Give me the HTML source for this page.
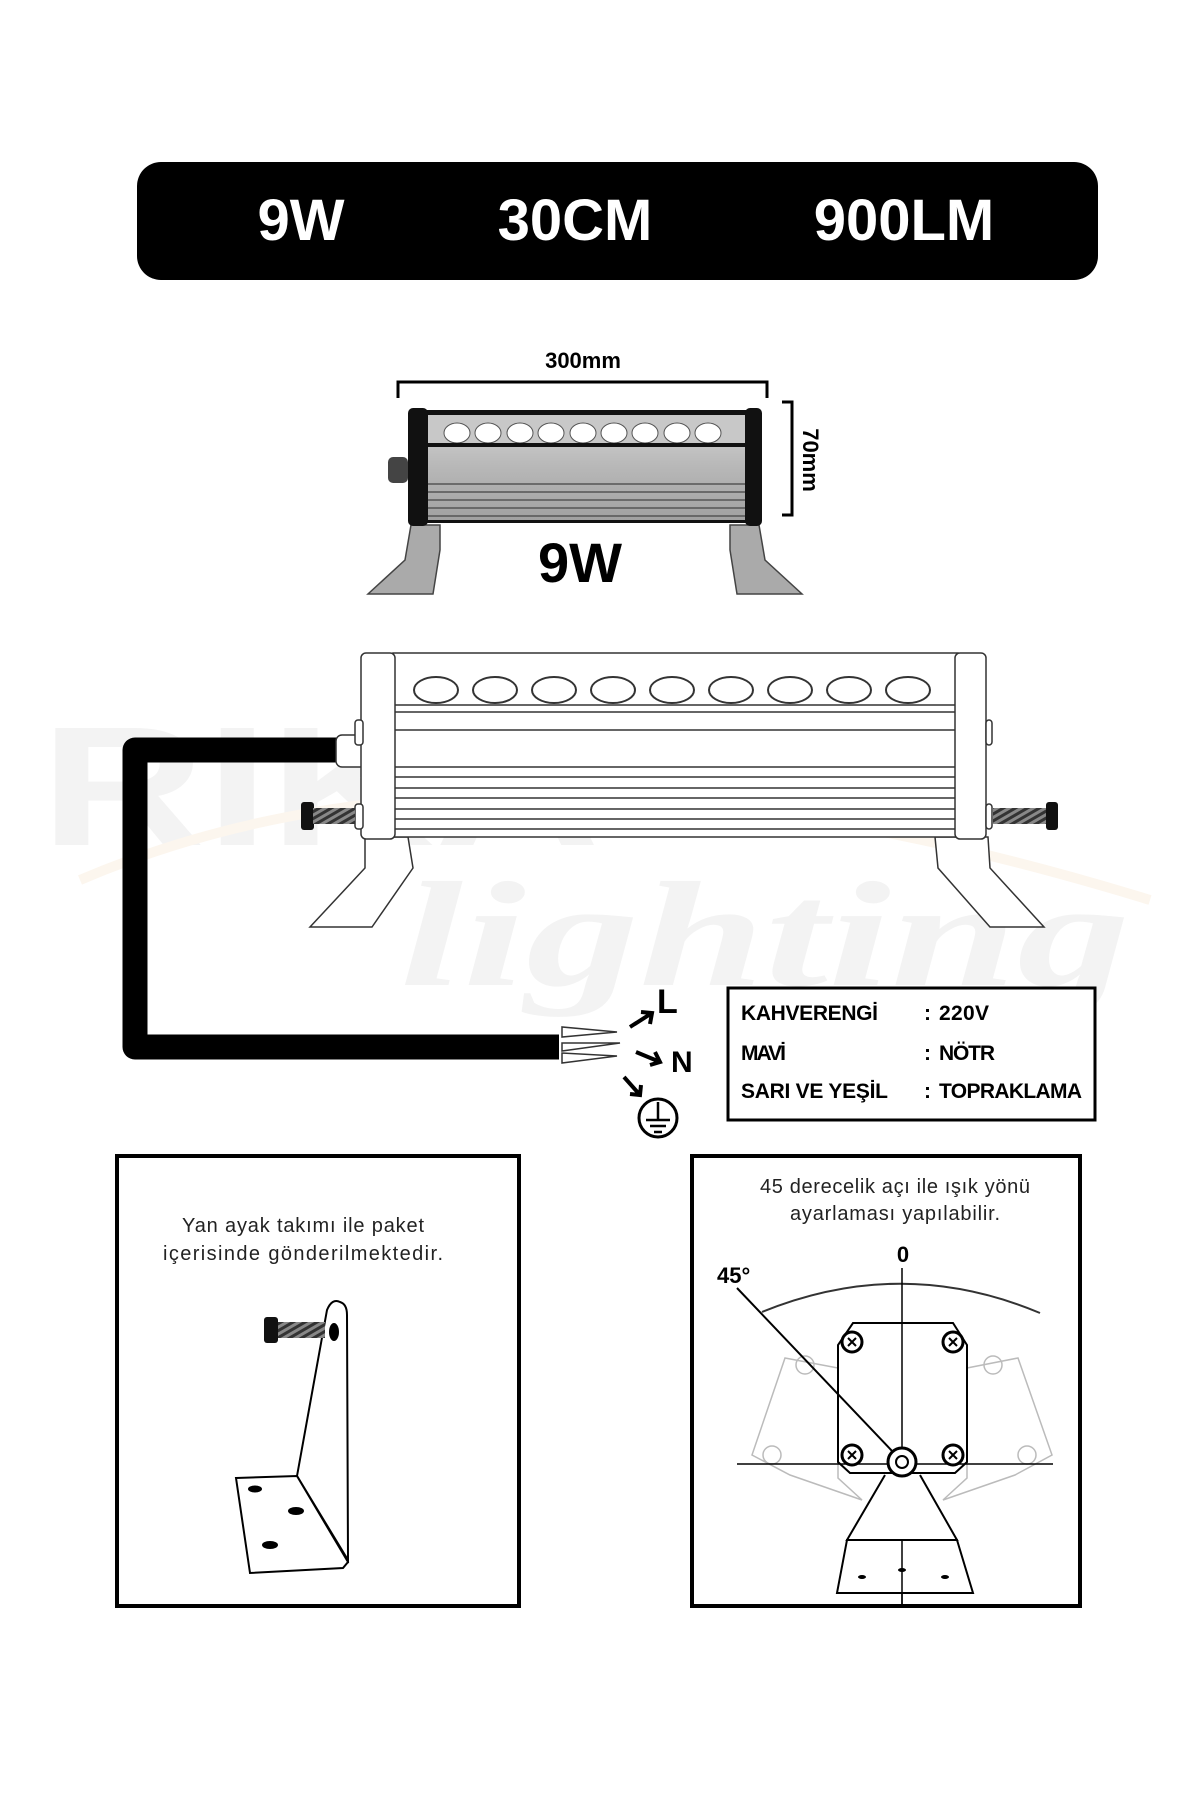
<!DOCTYPE html>
<html><head><meta charset="utf-8"><style>html,body{margin:0;padding:0;background:#fff}svg{display:block}</style></head>
<body>
<svg width="1200" height="1800" viewBox="0 0 1200 1800" xmlns="http://www.w3.org/2000/svg" font-family="Liberation Sans, sans-serif">
<defs>
<linearGradient id="g1" x1="0" y1="0" x2="0" y2="1"><stop offset="0" stop-color="#d8d8d8"/><stop offset="0.5" stop-color="#b8b8b8"/><stop offset="1" stop-color="#a0a0a0"/></linearGradient>
<pattern id="thr" width="6" height="6" patternUnits="userSpaceOnUse" patternTransform="rotate(60)"><rect width="6" height="6" fill="#888"/><rect width="3" height="6" fill="#333"/></pattern>
</defs>
<!-- watermark -->
<text x="40" y="845" font-size="170" font-weight="bold" fill="#f3f3f3" textLength="560" lengthAdjust="spacingAndGlyphs">RIKA</text>
<text x="400" y="985" font-size="150" font-weight="bold" font-style="italic" font-family="Liberation Serif, serif" fill="#f3f3f3" textLength="730" lengthAdjust="spacingAndGlyphs">lighting</text>
<path d="M80 880 Q500 700 1150 900" stroke="#fcf6ee" stroke-width="10" fill="none"/>

<!-- banner -->
<rect x="137" y="162" width="961" height="118" rx="24" fill="#000"/>
<g fill="#fff" font-weight="bold" font-size="58" text-anchor="middle">
<text x="301" y="240">9W</text><text x="575" y="240">30CM</text><text x="904" y="240">900LM</text></g>

<!-- small lamp -->
<text x="583" y="368" font-size="22" font-weight="bold" text-anchor="middle">300mm</text>
<path d="M398 398V382H767V398" stroke="#000" stroke-width="3" fill="none"/>
<path d="M782 402H792V515H782" stroke="#000" stroke-width="3" fill="none"/>
<text transform="translate(803,460) rotate(90)" font-size="22" font-weight="bold" text-anchor="middle">70mm</text>
<g fill="#aaa" stroke="#444" stroke-width="1.5">
<path d="M411 525L440 525L440 550L433 594L368 594L405 560Z"/>
<path d="M759 525L730 525L730 550L737 594L802 594L765 560Z"/>
</g>
<rect x="425" y="410" width="323" height="112" fill="url(#g1)"/>
<rect x="425" y="410" width="323" height="5" fill="#111"/>
<rect x="425" y="415" width="323" height="29" fill="#c8c8c8"/>
<g fill="#fff" stroke="#555" stroke-width="1">
<ellipse cx="457" cy="433" rx="13" ry="10"/><ellipse cx="488" cy="433" rx="13" ry="10"/><ellipse cx="520" cy="433" rx="13" ry="10"/><ellipse cx="551" cy="433" rx="13" ry="10"/><ellipse cx="583" cy="433" rx="13" ry="10"/><ellipse cx="614" cy="433" rx="13" ry="10"/><ellipse cx="645" cy="433" rx="13" ry="10"/><ellipse cx="677" cy="433" rx="13" ry="10"/><ellipse cx="708" cy="433" rx="13" ry="10"/></g>
<rect x="425" y="443" width="323" height="4" fill="#111"/>
<g stroke="#555" stroke-width="1.5"><path d="M427 484H746M427 492H746M427 500H746M427 508H746M427 516H746"/></g>
<rect x="425" y="520" width="323" height="3" fill="#111"/>
<rect x="408" y="408" width="20" height="118" rx="5" fill="#111"/>
<rect x="745" y="408" width="17" height="118" rx="5" fill="#111"/>
<rect x="388" y="457" width="20" height="26" rx="5" fill="#444"/>
<text x="580" y="582" font-size="56" font-weight="bold" text-anchor="middle">9W</text>

<!-- big lamp -->
<path d="M336 750H135V1047H559" stroke="#000" stroke-width="25" fill="none" stroke-linejoin="round"/>
<g fill="#fff" stroke="#333" stroke-width="1.5">
<path d="M617 1032l-55 -5v10z M620 1043l-58 0v8z M617 1056l-55 -3v10z"/>
<rect x="336" y="735" width="30" height="32" rx="6"/>
<path d="M365 837L408 837L413 868L372 927L310 927L365 868Z"/>
<path d="M935 837L988 837L990 868L1044 927L990 927L938 868Z"/>
<rect x="393" y="653" width="565" height="184"/>
<rect x="361" y="653" width="34" height="186" rx="5"/>
<rect x="955" y="653" width="31" height="186" rx="5"/>
<rect x="355" y="720" width="8" height="25" rx="3"/>
<rect x="986" y="720" width="6" height="25" rx="3"/>
<rect x="355" y="804" width="8" height="25" rx="3"/>
<rect x="986" y="804" width="6" height="25" rx="3"/>
</g>
<g stroke="#333" stroke-width="1.5" fill="none"><path d="M395 705H955M395 712H955M395 730H955M395 767H955M395 777H955M395 788H955M395 798H955M395 809H955M395 819H955M395 829H955"/></g>
<g fill="#fff" stroke="#333" stroke-width="2">
<ellipse cx="436" cy="690" rx="22" ry="13"/><ellipse cx="495" cy="690" rx="22" ry="13"/><ellipse cx="554" cy="690" rx="22" ry="13"/><ellipse cx="613" cy="690" rx="22" ry="13"/><ellipse cx="672" cy="690" rx="22" ry="13"/><ellipse cx="731" cy="690" rx="22" ry="13"/><ellipse cx="790" cy="690" rx="22" ry="13"/><ellipse cx="849" cy="690" rx="22" ry="13"/><ellipse cx="908" cy="690" rx="22" ry="13"/></g>
<rect x="301" y="802" width="13" height="28" rx="3" fill="#111"/><rect x="313" y="808" width="42" height="16" fill="url(#thr)"/>
<rect x="1046" y="802" width="12" height="28" rx="3" fill="#111"/><rect x="993" y="808" width="53" height="16" fill="url(#thr)"/>

<!-- L N ground -->
<g stroke="#000" stroke-width="4" fill="none">
<path d="M630 1027L652 1013M641 1012L652 1013L650 1024"/>
<path d="M636 1052L660 1062M650 1065L660 1062L655 1052"/>
<path d="M624 1077L640 1095M630 1094L640 1095L641 1085"/>
<circle cx="658" cy="1118" r="19" stroke-width="3"/>
<path d="M658 1102V1120M646 1120H670M650 1126H666M654 1132H662" stroke-width="2.5"/></g>
<text x="657" y="1013" font-size="34" font-weight="bold">L</text>
<text x="671" y="1072" font-size="30" font-weight="bold">N</text>

<!-- legend -->
<rect x="728" y="988" width="367" height="132" fill="#fff" stroke="#000" stroke-width="3"/>
<g font-size="21" font-weight="bold">
<text x="741" y="1020" textLength="137">KAHVERENGİ</text><text x="924" y="1020">:</text><text x="939" y="1020" textLength="50">220V</text>
<text x="741" y="1060" textLength="45">MAVİ</text><text x="924" y="1060">:</text><text x="939" y="1060" textLength="56">NÖTR</text>
<text x="741" y="1098" textLength="147">SARI VE YEŞİL</text><text x="924" y="1098">:</text><text x="939" y="1098" textLength="143">TOPRAKLAMA</text></g>

<!-- left panel -->
<rect x="117" y="1156" width="402" height="450" fill="none" stroke="#000" stroke-width="4"/>
<g font-size="20" fill="#222" text-anchor="middle">
<text x="303" y="1232" textLength="242">Yan ayak takımı ile paket</text>
<text x="303" y="1260" textLength="280">içerisinde gönderilmektedir.</text></g>
<g fill="#fff" stroke="#000" stroke-width="2">
<path d="M297 1476L327 1310Q332 1298 340 1302Q347 1304 347 1315L348 1560Z"/>
<path d="M236 1478L297 1476L348 1562L343 1568L250 1573Z"/></g>
<ellipse cx="334" cy="1332" rx="5" ry="9"/>
<ellipse cx="255" cy="1489" rx="7" ry="3.5"/><ellipse cx="296" cy="1511" rx="8" ry="4"/><ellipse cx="270" cy="1545" rx="8" ry="4"/>
<rect x="264" y="1317" width="14" height="26" rx="3" fill="#111"/><rect x="278" y="1322" width="47" height="16" fill="url(#thr)"/>

<!-- right panel -->
<rect x="692" y="1156" width="388" height="450" fill="none" stroke="#000" stroke-width="4"/>
<g font-size="20" fill="#222" text-anchor="middle">
<text x="895" y="1193" textLength="270">45 derecelik açı ile ışık yönü</text>
<text x="895" y="1220" textLength="210">ayarlaması yapılabilir.</text></g>
<text x="903" y="1262" font-size="22" font-weight="bold" text-anchor="middle">0</text>
<text x="717" y="1283" font-size="22" font-weight="bold">45°</text>
<path d="M762 1312Q902 1255 1040 1313" stroke="#333" stroke-width="2" fill="none"/>
<g stroke="#bbb" stroke-width="1.5" fill="none">
<path d="M785 1358L838 1368L838 1478L862 1500L790 1475L752 1455Z"/>
<path d="M1018 1358L967 1368L967 1478L943 1500L1015 1475L1052 1455Z"/>
<circle cx="805" cy="1365" r="9"/><circle cx="772" cy="1455" r="9"/><circle cx="993" cy="1365" r="9"/><circle cx="1027" cy="1455" r="9"/></g>
<path d="M853 1323H953L967 1345L967 1462L955 1473L850 1473L838 1462L838 1345Z" fill="#fff" stroke="#000" stroke-width="2"/>
<g stroke="#000" stroke-width="1.5"><path d="M902 1268V1605M737 1464H1053"/></g>
<path d="M737 1288L893 1452" stroke="#000" stroke-width="2"/>
<g fill="#fff" stroke="#000" stroke-width="3">
<circle cx="852" cy="1342" r="10"/><circle cx="953" cy="1342" r="10"/><circle cx="852" cy="1455" r="10"/><circle cx="953" cy="1455" r="10"/></g>
<g stroke="#000" stroke-width="2"><path d="M848 1338l8 8M856 1338l-8 8M949 1338l8 8M957 1338l-8 8M848 1451l8 8M856 1451l-8 8M949 1451l8 8M957 1451l-8 8"/></g>
<path d="M885 1475L847 1540H957L920 1475" fill="#fff" stroke="#000" stroke-width="2"/>
<path d="M847 1540H957L973 1593H837Z" fill="#fff" stroke="#000" stroke-width="2"/>
<circle cx="902" cy="1462" r="14" fill="#fff" stroke="#000" stroke-width="3"/>
<circle cx="902" cy="1462" r="6" fill="#fff" stroke="#000" stroke-width="2"/>
<path d="M902 1540V1605" stroke="#000" stroke-width="1.5"/>
<ellipse cx="862" cy="1577" rx="4" ry="2"/><ellipse cx="902" cy="1570" rx="4" ry="2"/><ellipse cx="945" cy="1577" rx="4" ry="2"/>
</svg>
</body></html>
